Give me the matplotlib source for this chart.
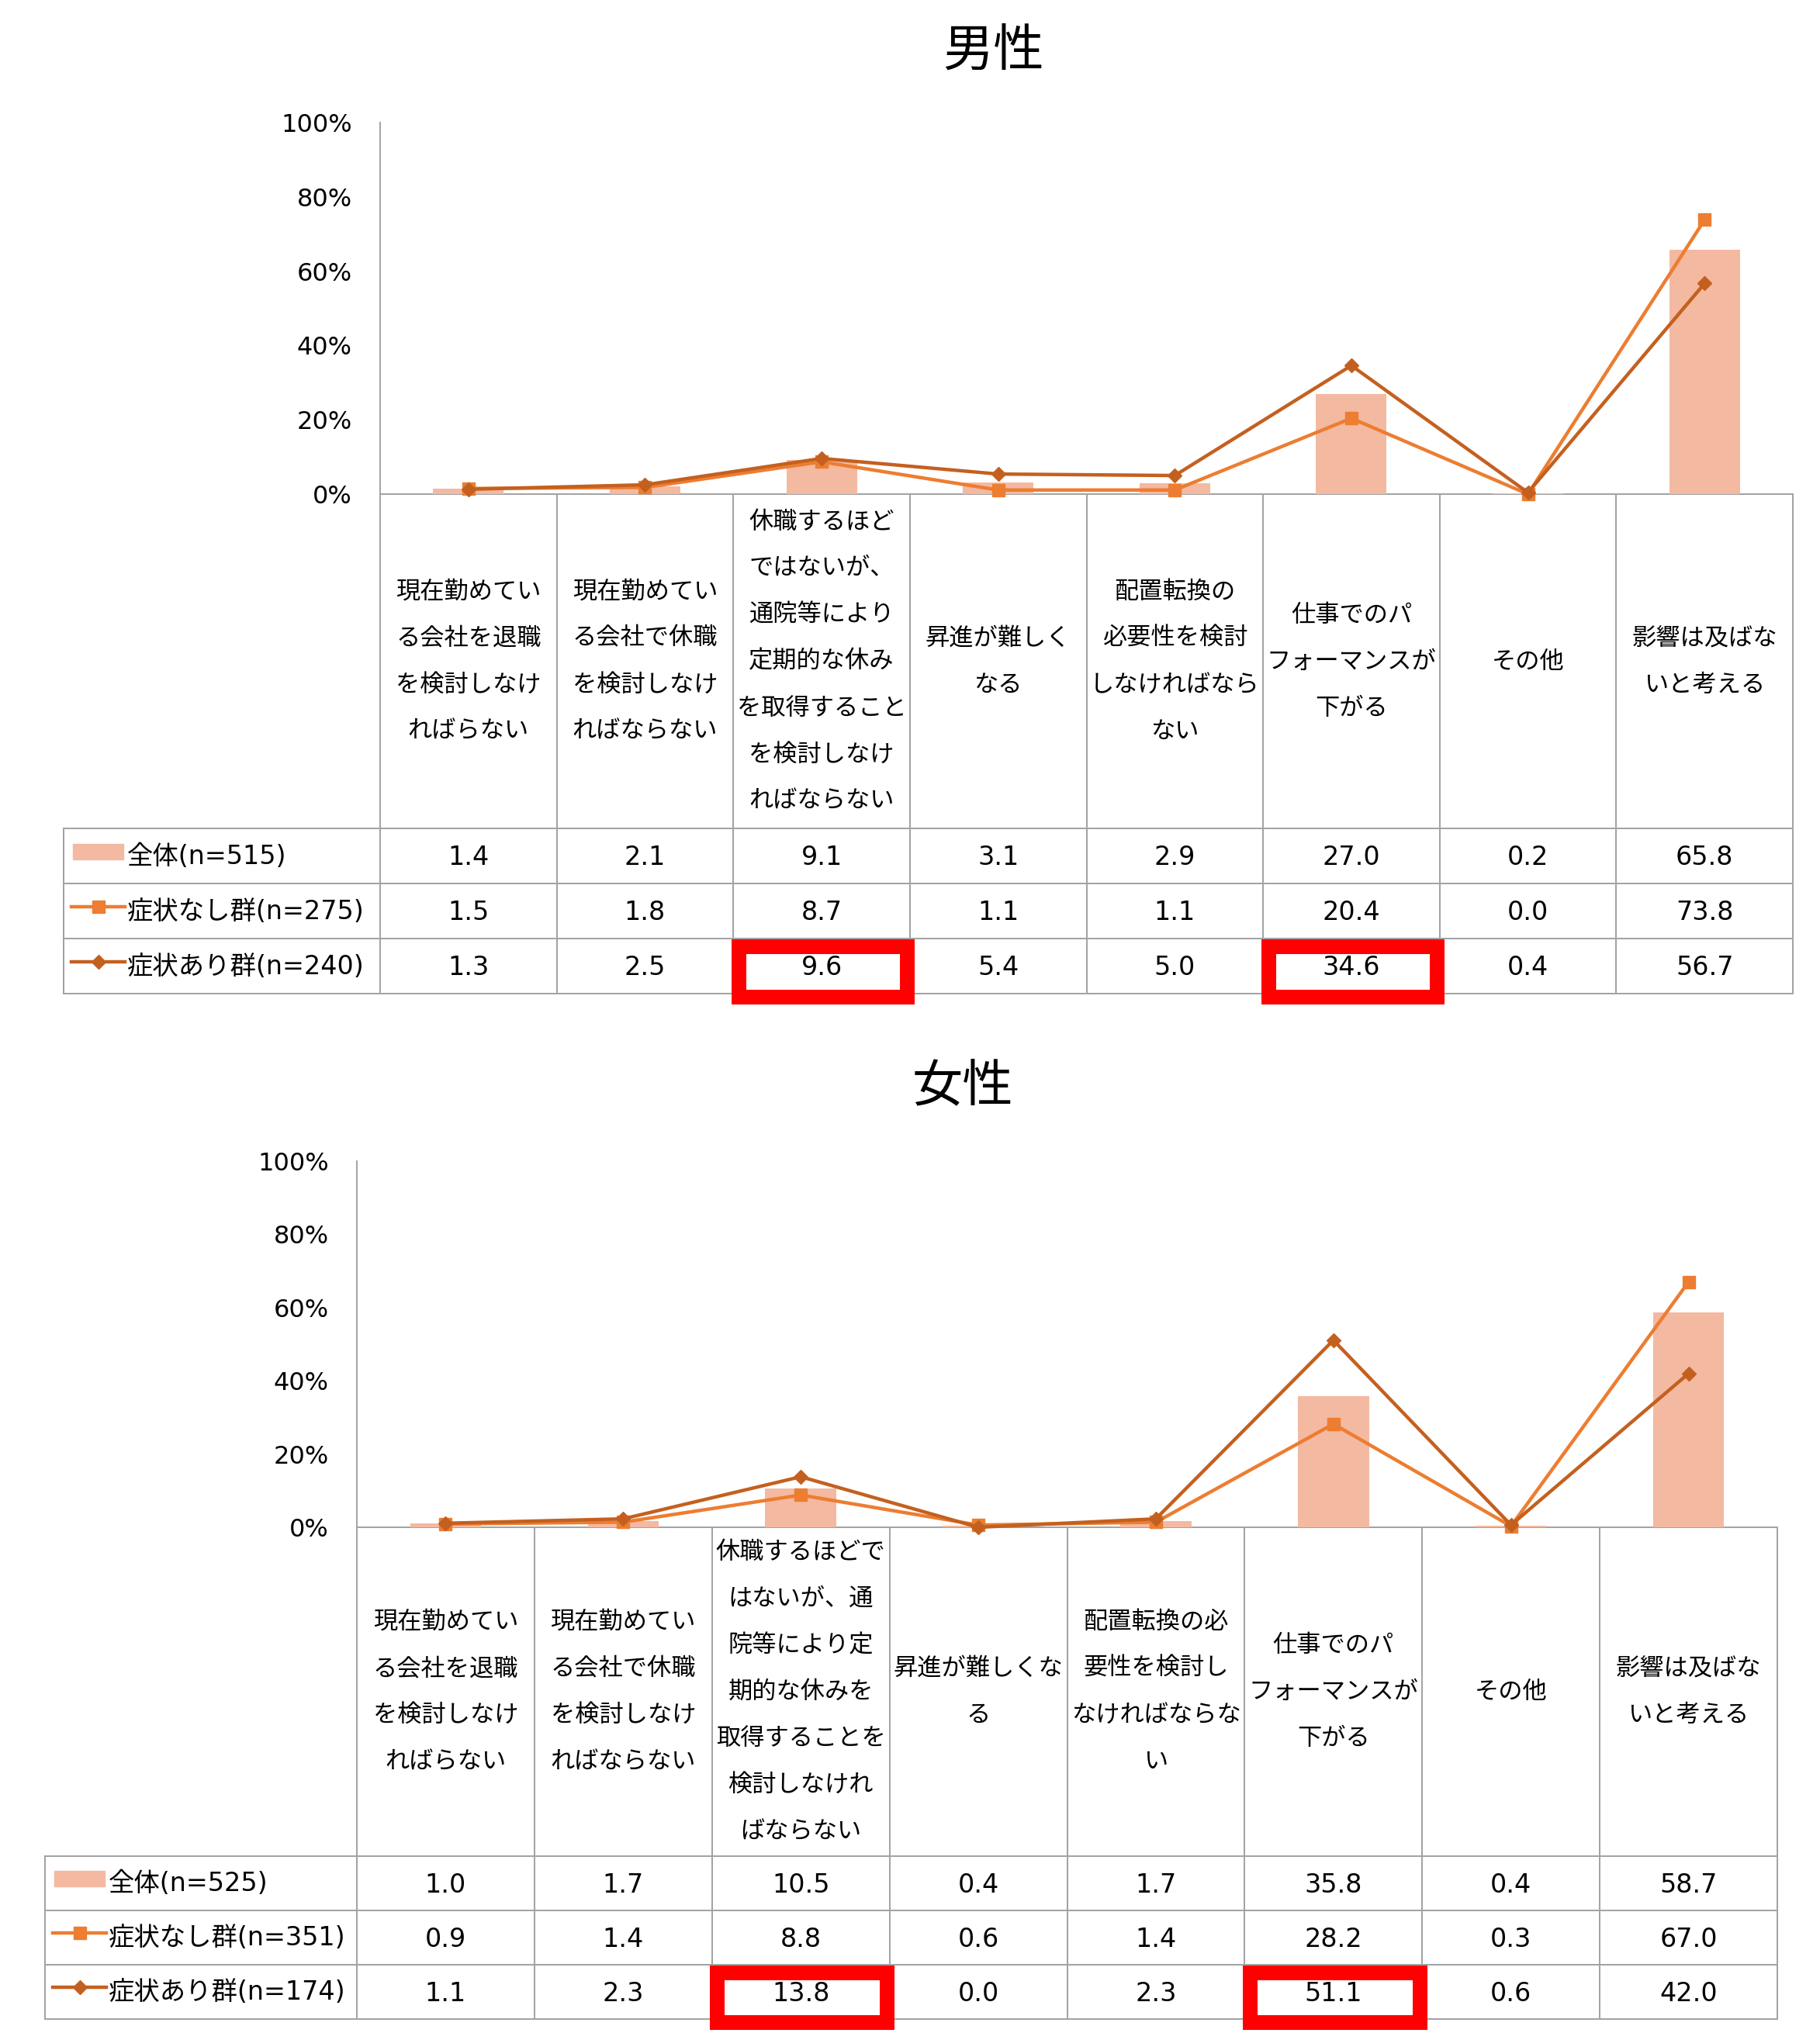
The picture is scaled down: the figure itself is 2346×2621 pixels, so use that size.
import matplotlib
matplotlib.use("Agg")
import matplotlib.pyplot as plt
from matplotlib.patches import Rectangle
from matplotlib.lines import Line2D

plt.rcParams['font.family'] = ['DejaVu Sans', 'Noto Sans CJK JP']

# ---------------- data ----------------
titles = ['男性', '女性']

categories_m = [
    ['現在勤めてい', 'る会社を退職', 'を検討しなけ', 'ればらない'],
    ['現在勤めてい', 'る会社で休職', 'を検討しなけ', 'ればならない'],
    ['休職するほど', 'ではないが、', '通院等により', '定期的な休み', 'を取得すること', 'を検討しなけ', 'ればならない'],
    ['昇進が難しく', 'なる'],
    ['配置転換の', '必要性を検討', 'しなければなら', 'ない'],
    ['仕事でのパ', 'フォーマンスが', '下がる'],
    ['その他'],
    ['影響は及ばな', 'いと考える'],
]
categories_f = [
    ['現在勤めてい', 'る会社を退職', 'を検討しなけ', 'ればらない'],
    ['現在勤めてい', 'る会社で休職', 'を検討しなけ', 'ればならない'],
    ['休職するほどで', 'はないが、通', '院等により定', '期的な休みを', '取得することを', '検討しなけれ', 'ばならない'],
    ['昇進が難しくな', 'る'],
    ['配置転換の必', '要性を検討し', 'なければならな', 'い'],
    ['仕事でのパ', 'フォーマンスが', '下がる'],
    ['その他'],
    ['影響は及ばな', 'いと考える'],
]

series_names_m = ['全体(n=515)', '症状なし群(n=275)', '症状あり群(n=240)']
series_names_f = ['全体(n=525)', '症状なし群(n=351)', '症状あり群(n=174)']

all_m = [1.4, 2.1, 9.1, 3.1, 2.9, 27.0, 0.2, 65.8]
none_m = [1.5, 1.8, 8.7, 1.1, 1.1, 20.4, 0.0, 73.8]
symp_m = [1.3, 2.5, 9.6, 5.4, 5.0, 34.6, 0.4, 56.7]

all_f = [1.0, 1.7, 10.5, 0.4, 1.7, 35.8, 0.4, 58.7]
none_f = [0.9, 1.4, 8.8, 0.6, 1.4, 28.2, 0.3, 67.0]
symp_f = [1.1, 2.3, 13.8, 0.0, 2.3, 51.1, 0.6, 42.0]

yticks = [0, 20, 40, 60, 80, 100]
ytick_labels = ['0%', '20%', '40%', '60%', '80%', '100%']

highlight_cols = [2, 5]   # highlighted cells in the 症状あり row

# ---------------- style / layout ----------------
W, H = 2346, 2621
C_BAR = '#F4B9A1'
C_NONE = '#ED7D31'
C_SYMP = '#C4601F'
C_GRID = '#A3A3A3'
C_RED = '#FF0000'

panels = [
    dict(title=titles[0], title_xy=(1280, 66), cats=categories_m, names=series_names_m,
         data=(all_m, none_m, symp_m), left=490, right=2311, top=158, zero=637,
         hb=1068, rh=71.0, ll=82),
    dict(title=titles[1], title_xy=(1241, 1401), cats=categories_f, names=series_names_f,
         data=(all_f, none_f, symp_f), left=460, right=2291, top=1497, zero=1969,
         hb=2393, rh=70.0, ll=58),
]

fig = plt.figure(figsize=(W / 100, H / 100), dpi=100)
fig.patch.set_facecolor('white')

ov = fig.add_axes([0, 0, 1, 1], zorder=0)
ov.set_xlim(0, W)
ov.set_ylim(H, 0)
ov.axis('off')

PX = 0.72  # points per pixel at dpi 100

for p in panels:
    L, R, T, Z = p['left'], p['right'], p['top'], p['zero']
    HB, RH, LL = p['hb'], p['rh'], p['ll']
    n = len(p['cats'])
    cw = (R - L) / n
    a_all, a_none, a_symp = p['data']

    ax = fig.add_axes([L / W, 1 - Z / H, (R - L) / W, (Z - T) / H], zorder=2)
    ax.patch.set_alpha(0)
    xs = [i + 0.5 for i in range(n)]
    ax.bar(xs, a_all, width=0.4, color=C_BAR, zorder=1)
    ax.plot(xs, a_none, color=C_NONE, lw=3.2, marker='s', ms=11, zorder=3, clip_on=False)
    ax.plot(xs, a_symp, color=C_SYMP, lw=3.2, marker='D', ms=9.5, zorder=4, clip_on=False)
    ax.set_xlim(0, n)
    ax.set_ylim(0, 100)
    ax.set_xticks([])
    ax.set_yticks(yticks)
    ax.set_yticklabels(ytick_labels, fontsize=23)
    ax.tick_params(axis='y', length=0, pad=36 * PX)
    for s in ['top', 'right', 'bottom']:
        ax.spines[s].set_visible(False)
    ax.spines['left'].set_color(C_GRID)
    ax.spines['left'].set_linewidth(1.4)

    # title
    ov.text(p['title_xy'][0], p['title_xy'][1], p['title'], fontsize=47,
            ha='center', va='center', family=['Noto Sans CJK JP'])

    # table grid
    bottom = HB + 3 * RH
    lw = 2 * PX
    ov.plot([L, R], [Z, Z], color=C_GRID, lw=lw, zorder=1)
    for k in range(n + 1):
        x = L + k * cw
        ov.plot([x, x], [Z, bottom], color=C_GRID, lw=lw, zorder=1)
    ov.plot([LL, LL], [HB, bottom], color=C_GRID, lw=lw, zorder=1)
    for j in range(4):
        y = HB + j * RH
        ov.plot([LL, R], [y, y], color=C_GRID, lw=lw, zorder=1)

    # header texts
    cy = (Z + HB) / 2
    for i, lines in enumerate(p['cats']):
        cx = L + (i + 0.5) * cw
        m = len(lines)
        for k, line in enumerate(lines):
            ov.text(cx, cy + (k - (m - 1) / 2) * 60, line, fontsize=22.5,
                    ha='center', va='center', family=['Noto Sans CJK JP'])

    # values
    for j, vals in enumerate(p['data']):
        ry = HB + (j + 0.5) * RH
        for i, v in enumerate(vals):
            cx = L + (i + 0.5) * cw
            ov.text(cx, ry + 2, f'{v:.1f}', fontsize=24, ha='center', va='center',
                    family=['DejaVu Sans'])

    # legend cells
    for j, name in enumerate(p['names']):
        ry = HB + (j + 0.5) * RH
        sy = ry - 6
        if j == 0:
            ov.add_patch(Rectangle((LL + 12, sy - 10), 65, 20, color=C_BAR, zorder=2))
        else:
            col = C_NONE if j == 1 else C_SYMP
            mk = 's' if j == 1 else 'D'
            ov.add_line(Line2D([LL + 10, LL + 79], [sy, sy], color=col, lw=3.2, zorder=2))
            ov.add_line(Line2D([LL + 45], [sy], color=col, marker=mk,
                               ms=11 if j == 1 else 9.5, lw=0, zorder=3))
        ov.text(LL + 82, ry + 1, name, fontsize=24, ha='left', va='center',
                family=['DejaVu Sans', 'Noto Sans CJK JP'])

    # red highlight boxes in the 症状あり row
    rt = HB + 2 * RH
    rb = HB + 3 * RH
    sw = 19
    for c in highlight_cols:
        cl = L + c * cw
        cr = cl + cw
        x0, x1 = cl - 3, cr + 6
        y0, y1 = rt, rb + 13
        ov.add_patch(Rectangle((x0 + sw / 2, y0 + sw / 2), (x1 - x0) - sw, (y1 - y0) - sw,
                               fill=False, edgecolor=C_RED, lw=sw * PX, zorder=5,
                               joinstyle='miter'))

fig.savefig('out.png', dpi=100, facecolor='white')
